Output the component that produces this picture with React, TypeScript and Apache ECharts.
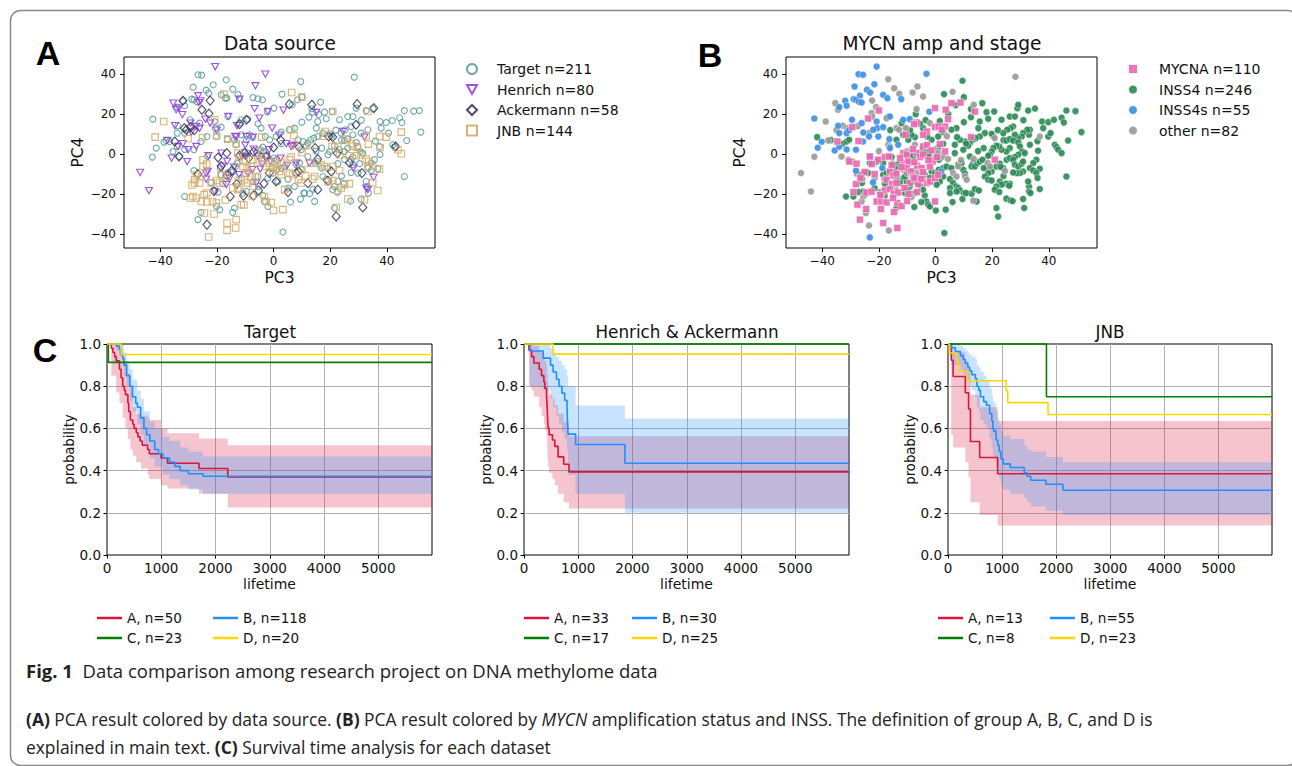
import React, { useEffect, useRef } from "react";
import * as echarts from "echarts";

// ---------------- Panel A: PCA points by data source [PC3, PC4] ----------------
const targetPts = [
  [-26.7,39.7],[-25.4,39.5],[-28.4,33.5],[-23.8,32],[-21.3,34.7],[-22.9,30.5],[-16.7,37.2],[-14.4,32.5],[-12.6,29.8],[-16.5,28],
  [-7.3,28.3],[-5.5,27.7],[0.1,23],[-3.9,27.2],[9.6,36.3],[28.5,38.5],[8.5,27.2],[6.6,24.7],[16.6,26],[13.5,22.7],[13.8,21],[16,19.8],
  [-42.6,17.5],[-41.4,3],[-42.8,-1.5],[-38.7,6],[-36.7,6.3],[-35.5,1.3],[-33.8,14.2],[-34,10.5],[-31.4,10.5],[-29.5,17.2],[-26.1,15.5],
  [-20.8,16.3],[-20.6,13],[-18.5,13.5],[-16.1,18.8],[-11.4,17.2],[-9.1,17.5],[-2.2,21.2],[-31.9,26.7],[-28.9,27.5],[-34,23.5],[-31.4,24.2],
  [-18.5,29.7],[-17,28],[-12.1,27.5],[-28.1,27.2],[-27.1,26.2],[-25.6,6.3],[-23.5,8.8],[-20.2,8.8],[-16.3,7.5],[-13.2,4.7],[-28.1,2.2],
  [-31.4,2.3],[-34,3.7],[-37.9,6.8],[-33.2,-1.2],[-23.3,-1.2],[-18.8,-7],[-28.1,-8.3],[-22.1,-14.2],[-19.6,-19],[-31.4,-21.2],[-25.6,-29.2],
  [-26.7,-32.8],[-19,-27.8],[-20.1,-26.2],[-14.4,-29.2],[-13.8,-27],[-17.9,-14.8],[-18.5,-10.3],[-16.1,-9.2],[-14.2,-8.7],[-13.5,-6.2],[-12.9,-4.5],
  [-10.2,1.3],[-9.1,0.5],[-5.8,0.5],[-4.6,2.2],[-3.5,1.3],[-2.3,-1.2],[0.1,-2],[1.2,-2.8],[-1.4,7.2],[-2.9,8.8],[-4.4,13],[-5.5,15.2],
  [-3.8,3.5],[-7.3,8.5],[-8.5,9.7],[-9.6,7.2],[-11.4,9.7],[-12,15.5],[-13.8,7.2],[0.9,8.8],[2.7,5.2],[2.7,11],[5.6,12.2],[7.4,13],[8.6,7.2],
  [9.8,2.2],[10.5,6.3],[11.5,4.2],[12.1,5.5],[13.1,7.2],[14.2,8],[15.6,8.8],[17.4,10.5],[15.1,13],[15.6,16.3],[18.6,17.7],[19.8,10.2],[20.4,8.8],
  [12.5,18.5],[10,16],[3,30],[10,28.5],[-0.2,-9.5],[1.1,-7.8],[2.7,-7],[3.9,-6.2],[8,-5.3],[9.2,-4.5],[9.8,-7.8],[12.1,-1.2],[14.8,-4.5],
  [15.6,-3.7],[19.2,-7],[17.4,-11.2],[18.6,-12.8],[5.1,-12.5],[7.4,-16.2],[11,-19.5],[12.7,-19.8],[1.5,-13.7],[-3.8,-20.7],[-3.2,-23.7],
  [-2,-26.2],[3.3,-39],[5.1,-17],[10.7,-19.5],[13.9,-17.5],[14.5,-23.7],[-7.3,-13.7],[-5.3,-16.2],[-9.6,-18.7],[-10.8,-19.5],[-11.4,-12],
  [-5.5,-11.2],[-2,-12],[6,-24],[9.5,-22.5],[46.2,21.8],[49.5,21.5],[51.5,21.8],[52,11],[47,6.8],[46.2,-11.2],[39.8,15.8],[41.9,16.8],
  [37.4,3.8],[37.6,-0.2],[40.6,10.5],[44.5,18.2],[45.3,15.8],[42.7,3.5],[42.1,4.7],[36.8,-7.3],[35.6,-2.8],[34.5,-4.5],[33.3,12.2],[30.9,10.5],
  [28,9.7],[27.4,13.8],[25.3,12.2],[26.2,18.8],[28,18.8],[29.2,23],[32.7,21.8],[35.1,22.8],[37.6,16.3],[20.7,21.3],[23.3,17.2],[23.9,10.5],
  [24,7],[25,6.8],[26.2,7.5],[29.2,5.8],[29.8,3.8],[30.6,1.3],[31.5,0.5],[28,-1.5],[26.2,3],[25,1.3],[23.3,2.2],[21.5,4.2],[19.8,1.3],
  [19.2,-0.3],[22.7,-4.8],[25.1,-2.8],[27.4,-2.8],[28,-5.3],[30.4,-4.8],[33.3,-7],[34.5,-8.2],[29.8,-9.5],[27.4,-9.2],[24.8,-14.8],
  [22.7,-13.7],[21.5,-16.2],[20.9,-17.8],[27.2,-23.5],[22.5,-19],[21.5,-27],[30.9,-22.5],[33,-16.2],[33.5,-19.5],[32.7,-13.7],[36,6.5],
  [38,13],[31,17],[18,21],[22,12],[17,3],[15,1.5],[24,-11],[17,-7]
];
const henrichPts = [
  [-20.6,43.8],[-2.9,40],[-6.4,34.2],[-26.6,29.2],[-26.4,25.8],[-25.8,26.6],[-35.4,25.5],[-33.4,23],[-34.4,22.2],[-12,27.5],[-16,18.8],
  [-6.7,22.7],[-2,21.3],[3.5,22],[-24.1,17.5],[-22.4,15.5],[-32.2,19.7],[-29.3,15.5],[-34.8,14.2],[-27.3,13.8],[-26.1,13],[-13.6,8.8],
  [-13.1,8.6],[-9.6,8.8],[-7.3,8.5],[-12.9,14.2],[-0.5,13],[-37.5,6.8],[-33.8,3.8],[-32,5.2],[-30.2,2.2],[-27.3,3.8],[-23,-0.8],[-18.4,0.5],
  [-11,-1.2],[-9.6,-1.2],[-5.5,-1.2],[-7,2.5],[-2.6,-1.2],[-1.6,2.2],[4.5,5.2],[6.8,4.2],[8,-4.5],[4.8,-5.7],[-1.1,-3.7],[-4.7,-7.5],
  [-7.5,-7.8],[-9.1,-9.5],[-6.1,-14.5],[-16.7,-15.3],[-16.4,-3.7],[-12.2,-10.3],[-23.2,-8.7],[-23.8,-9.5],[-20.8,-18.7],[-30.5,-3.8],
  [-23.8,-12.5],[-47.1,-9.2],[-44,-18.3],[24.5,11.3],[28.2,-7],[32.1,8.5],[32.7,-17],[33.3,-17.8],[35.3,-11.7],[15.1,20.8],[12.7,-4.5],
  [6.2,3.8],[-29,11],[-18,-6],[-14,-6.5],[-4,-5],[2.5,-2],[-20,12],[-15.5,-12],[-10,4.5],[-36,-2],[-5,18],[2,9.5]
];
const ackermannPts = [
  [-32,26.7],[-22.4,26.8],[-25.3,22.2],[-22.8,20.3],[-9.6,17.2],[-12,15],[-29.3,13.5],[-30.8,12.2],[-34.9,6.3],[-33.4,-1.2],[-19.6,-1.7],
  [-16.5,0.5],[-12,-0.7],[-10.2,0.5],[-8.8,-2],[-2.6,-1.2],[0,3.3],[5.6,25],[13.5,24.7],[29.5,25],[35.4,23],[29.1,14.7],[19.5,8.8],
  [20.9,8.5],[43.1,3.8],[14.7,3],[8,-9.5],[8.8,-8.7],[12.1,-14.5],[15.6,-17.8],[5.1,-19],[0.9,-13.7],[-3.4,-14.8],[-5.3,-18.2],[-7.1,-20.8],
  [-10.6,-20.8],[-15.3,-21.2],[-16.4,-10.7],[-14.7,-8.2],[-26.7,-10],[-23.5,-35.3],[20.4,-8.7],[19.2,-13.3],[22.1,-31.2],[31.5,-26.7],
  [31.2,-9.5],[26.8,-4.3],[15.6,-2.5],[-28,12],[-13,-15],[-1.5,-9.5],[2.5,7],[-31.5,13],[-7,1.2],[22.5,0.5],[-21,-18.5],[9,3.5],[-18.5,-6]
];
const jnbPts = [
  [-17.5,30],[6.4,30.8],[10,28.5],[-20.8,17.2],[-38.8,16.3],[-41.8,8.5],[-25.1,8.3],[-30.2,7.7],[-20.1,9.2],[-16.2,7.5],[-13.2,5.2],
  [6.2,12.2],[7.2,9.2],[20.9,21.3],[33.3,21.3],[25.6,7.5],[27.4,5.2],[28,4],[32.7,9.2],[37.4,8.8],[39.8,8.5],[45.1,11],[45.1,0.2],[43.9,2.2],
  [37.6,3.3],[33.5,5],[29.5,3.5],[22.7,3.8],[23.3,-0.3],[20.6,3.8],[18.2,11.3],[17.4,9],[12.9,4.2],[10,0.8],[7.4,4.7],[13.1,-4.5],[16.8,-5.3],
  [18,-6.2],[20.9,-6.2],[23.3,-8.2],[26.6,-0.8],[29.2,-0.8],[30.9,-0.3],[32.7,-2.5],[33.3,-6.2],[35,-6.2],[37.4,-7.5],[33.6,-3.7],[35,-14.2],
  [36.8,-18.2],[32.1,-22.8],[26.8,-14.8],[25.1,-15.3],[23.9,-17],[22.7,-18.2],[20.9,-13.3],[19.2,-13.8],[26.2,-22.5],[22.1,-26.7],[14.5,-11.2],
  [11.3,-10.8],[13.8,-12.5],[8.8,-12.8],[9.7,-14.5],[10,-7.8],[5.6,-9.5],[6.8,-10.3],[2.7,-10.3],[2.1,-8.7],[3.9,-17.8],[1.2,-6.2],[2.7,-4.5],
  [0.4,-3.7],[-1.4,-4.5],[-2.6,-6.2],[3.3,-27.8],[0,-28.2],[-3.2,-21.2],[-2.6,-23.7],[-0.8,-24.2],[-11.4,-25.3],[-13.2,-32.8],[-16.4,-34.5],
  [-16.4,-38.2],[-13.4,-37],[-22.9,-41.5],[-24.4,-29.5],[-21.6,-23.7],[-20.2,-24.5],[-25.5,-23.7],[-27.3,-22],[-24.5,-20.3],[-23.6,-19.5],
  [-28.5,-21.2],[-29.3,-22],[-26.1,-14.5],[-27.9,-14.5],[-28.8,-15.5],[-27.2,-10.3],[-27.9,-12.8],[-22,-14.5],[-20.2,-13.2],[-19.1,-14.5],
  [-18.5,-10.3],[-16.7,-11.2],[-14.4,-17],[-12.6,-17.8],[-12,-17],[-10.2,-12.8],[-9.1,-14.5],[-7.3,-16.2],[-9.6,-9.7],[-8.1,-11.2],[-6.4,-11.2],
  [-10.8,-6.2],[-9.3,-7],[-7.9,-6.2],[-12.2,-3.7],[-10.6,-3.2],[-7.3,-2.8],[-5.5,-2.8],[-3.8,-3.7],[-4.2,1.3],[-1.4,-8.7],[-0.2,-7],[5.6,-2.8],
  [6.2,-1.5],[-12.5,-13.2],[-24.9,-2.8],[-25.5,-11.2],[-24.9,-6.2],[-23.6,-5],[-12.6,0.5],[-4.2,8.5],[-21,-30],[-17,-23],[-23.5,-24],
  [-10.5,-25.5],[-7.5,-21]
];

// ---------------- Panel B: PCA points by MYCN amplification and stage ----------------
const mycnaPts = [
  [-20,21.8],[-23.8,17.8],[-29.4,13.5],[-34.7,6.3],[-27.2,6.5],[-30.4,-3.7],[-27.9,-4.8],[-23.2,-1.2],[-20.2,-2.8],[-17.9,-1.5],[-16.5,-1.2],
  [-28.1,-15],[-24.4,-19.2],[-22.6,-18.8],[-27.6,-25.3],[-26.7,-32.8],[-20.8,-23.7],[-19.1,-23.7],[-17.3,-24.2],[-13.5,-24.5],[-19.3,-27.5],
  [-14.7,-29],[-18.5,-34.5],[-13.5,-37],[-16.1,-8.7],[-14.9,-10.7],[-13.8,-9.8],[-17.3,-12.8],[-15.4,-15],[-13.8,-14.5],[-17.9,-18.2],
  [-16.1,-17.5],[-14.7,-19.8],[-13.2,-19.2],[-11.4,0.5],[-10.2,-0.3],[-11.4,-4.5],[-9.6,-3.7],[-10.2,-7],[-8.6,-8.7],[-8,-11.2],[-9.1,-14.5],
  [-6.7,0.5],[-5.5,-1.5],[-4.4,-0.3],[-6.5,-5.8],[-4.9,-7],[-4.4,-9],[-6.1,-15],[-3.1,-14.5],[-1.9,-13.7],[-0.2,-12],[0.9,-10.3],
  [-6.7,15.8],[-7.6,15],[-10.5,9.7],[-0.2,23],[3.6,22.2],[5.6,25.5],[8.8,25.8],[4.4,17.5],[3.3,13.8],[-0.2,13.5],[1.1,13.8],[2.2,12.2],
  [-3.1,11.3],[-4.4,9.7],[13.9,21.3],[12.5,8.5],[20.9,-2.8],[-1,-3.7],[-2,-6.2],[-0.2,-23.7],[3.3,1.3],[-4.4,3.8],[-12.5,-2],[-8,2.5],
  [-2.5,-3],[0.5,-1.5],[-7.5,-12],[-5,-12.5],[-11,-17],[-9.5,-20],[-6.5,-19],[-15.5,-5.5],[-12,-6.5],[-3,4.5],[1.5,5],[-1.5,1.8],[-22.5,-5],
  [-25,-9],[-26.5,-12],[-21.5,-10],[-19.5,-20.5],[-12,-26],[-10,-23.5],[-7.5,-4],[-15,-22],[-24.5,-27.5],[-29,-19]
];
const inss4Pts = [
  [9.5,36.7],[10,28.5],[7.1,24.5],[16.5,25.5],[12.5,22.5],[20.7,21.3],[23.3,17.2],[26.2,18.8],[28,18.8],[28.9,23],[29.2,24.7],[32.7,21.8],
  [35.1,22.8],[37.6,16.3],[39.8,16],[41.8,17.2],[44.5,18.2],[46.2,21.8],[49.4,21.5],[51.5,11],[45.3,15.8],[46.8,6.8],[39.8,8.8],[40.6,10.5],
  [42.1,4.7],[42.7,3.5],[43.3,2.2],[44.5,0.5],[46.2,-11.2],[36.8,-7.3],[35.6,-2.8],[34.5,-4.5],[36.2,1.7],[33.3,4.7],[33,9.7],[33.3,12.2],
  [32.4,12.2],[30.9,10.5],[30.4,8.8],[29.2,8],[28,9.7],[27.4,13.8],[26.5,13],[25.3,12.2],[23.9,10.5],[24,7],[25,6.8],[26.2,7.5],[27.4,6.8],
  [29.2,5.8],[29.8,3.8],[30.6,1.3],[31.5,0.5],[29.2,-0.3],[28,-1.5],[26.2,3],[25,1.3],[23.3,2.2],[22.5,3.8],[21.5,4.2],[20.4,3],[19.8,1.3],
  [19.2,-0.3],[18.6,-0.8],[20.4,8.8],[19.8,10.2],[18.6,17.7],[15.6,16.3],[15.1,13],[17.4,10.5],[15.6,8.8],[14.2,8],[13.1,7.2],[12.1,5.5],
  [11.5,4.2],[10.5,6.3],[10.8,5.2],[9.8,2.2],[8.6,7.2],[7.6,8.5],[6.8,4.7],[6.8,0.5],[7.4,13],[5.6,12.2],[2.7,11],[0.9,8.8],[2.7,5.2],
  [0.9,3.3],[-0.2,2.2],[-1.4,7.2],[-2.9,8.8],[-4.4,13],[-5.5,15.2],[-3.8,3.5],[-2.6,0.5],[-7.3,8.5],[-8.5,9.7],[-9.6,7.2],[-11.4,9.7],
  [-12,15.5],[-13.8,7.2],[2.7,-7],[3.9,-6.2],[5.6,-7],[8,-5.3],[9.2,-4.5],[9.8,-7.8],[10.4,-9.8],[12.1,-1.2],[13.3,-4.5],[12.7,-6.2],
  [13.9,-6.2],[14.8,-4.5],[15.6,-3.7],[16.6,-2.8],[18,-6.2],[19.2,-7],[19.8,-8.7],[18.6,-9.5],[17.4,-11.2],[18.6,-12.8],[19.8,-13.2],
  [21.5,-6.2],[22.7,-4.8],[23.9,-7],[25.1,-2.8],[26.2,-2],[27.4,-2.8],[28,-5.3],[29.2,-6.2],[30.4,-4.8],[30.9,-3.7],[33.3,-7],[34.5,-8.2],
  [35.6,-9.5],[30.9,-8.7],[29.8,-9.5],[28.6,-9.5],[27.4,-9.2],[26.2,-14.8],[24.8,-14.8],[26,-15.8],[22.7,-13.7],[23.3,-15.3],[21.5,-16.2],
  [20.9,-17.8],[25,-22.3],[26.5,-23.2],[27.2,-23.5],[22.5,-19],[21.5,-27],[22.1,-31.2],[30.9,-22.5],[31.3,-27],[33,-16.2],[33,-18.7],
  [33.5,-19.5],[36.8,-17.5],[36,-12],[32.7,-13.7],[5.1,-12.5],[6.2,-14.5],[7.4,-16.2],[8,-17],[8.6,-18.2],[11,-19.5],[12.7,-19.8],
  [2.7,-11.2],[1.5,-13.7],[0.4,-15.3],[-3.8,-20.7],[-3.2,-23.7],[-2.6,-25.3],[-2,-26.2],[0.1,-28.2],[3.6,-27.8],[3.1,-39.5],[5.1,-17],
  [5.1,-19.5],[7.4,-18.7],[10,-19.5],[10.7,-19.5],[13.9,-17.5],[15.3,-18.2],[14.5,-23.7],[-7.3,-13.7],[-6.1,-14.5],[-5.3,-16.2],
  [-4.4,-17.8],[-9.1,-16.2],[-9.6,-18.7],[-7.3,-19.5],[-10.8,-19.5],[-10.2,-17.8],[-11.4,-12],[-10.2,-13.7],[-13.8,-27],[-18.5,-10.3],
  [-17.9,-14.8],[-31.6,-21.2],[-29,-21.2],[-27.2,-19],[-25.5,-18.7],[-21.5,-17],[-18.5,-4.5],[-20.8,-3.7],[-23.2,-4.5],[-23.8,-9.5],
  [-25.5,-9.5],[-32.8,5.2],[-31.4,6.3],[-30.5,7.2],[-41.8,8.5],[-16.1,-9.2],[-17.3,-9.5],[-14.2,-8.7],[-13.5,-6.2],[-12.9,-4.5],[-10.2,1.3],
  [-9.1,0.5],[-8,-1.2],[-5.8,0.5],[-4.6,2.2],[-3.5,1.3],[-2.3,-1.2],[-1.1,-2.8],[0.1,-2],[1.2,-2.8],[-1.4,-8.7],[-0.2,-9.5],[1.1,-7.8],
  [-13.8,-12.8],[-12.6,-14.5],[-5.5,-11.2],[-3.8,-10.3],[-2,-12],[-10.8,-11.2],[-15,-5],[-7,20],[-3.5,17],[1.5,16.5],[4.5,20],[12.5,18.5],
  [-24.5,-19.5],[-26,-14.5],[-18,-21],[-7.5,-26.5],[-5,-24],[6,-24],[9.5,-22.5],[17,-7],[24,-11],[17,3],[23,-6.5],[22,12],[10,16],[15,1.5],
  [36,6.5],[38,13],[31,17],[18,21],[3,30],[-9,12],[-16,12],[-15.5,-1.5],[-37,7]
];
const inss4sPts = [
  [-20.8,43.8],[-27.2,40],[-25.6,39.7],[-3.2,40.2],[-28.6,33.8],[-21.6,35],[-24.2,32.2],[-23.1,30.8],[-26.7,29.2],[-31.9,26.7],[-28.9,27.5],
  [-28.1,27.2],[-27.1,26.2],[-26.1,25.8],[-34,23.5],[-31.4,24.2],[-18.5,29.7],[-17,28],[-12.1,27.5],[-42.8,17.8],[-34.4,14.2],[-34,10.5],
  [-31.4,10.5],[-29.5,17.2],[-26.1,15.5],[-20.8,16.3],[-20.6,13],[-18.5,13.5],[-16.1,18.8],[-11.4,17.2],[-9.1,17.5],[-2.2,21.2],[-41.6,3.2],
  [-40.2,6.2],[-35.6,1.8],[-34,3.7],[-31.4,2.3],[-28.1,2.2],[-25.6,6.3],[-23.5,8.8],[-20.2,8.8],[-16.3,7.5],[-13.2,4.7],[-23.3,-1.2],
  [-18.8,-7],[-28.1,-8.3],[-22.1,-14.2],[1.9,-8.7],[-23.2,-41.7],[-16.1,3],[-25.5,10.8],[-22,12.2],[-30.5,12]
];
const otherPts = [
  [-47.5,-9.5],[-44,-18.7],[-42.8,-1.3],[-38.8,16.3],[-37.9,6.8],[-35.4,25.5],[-34.4,22.2],[-32.8,14.2],[-31.4,13],[-31,12],[-33.2,-1.2],
  [-30.8,-2.8],[-29.3,-3.7],[-27.8,-9.8],[-26.7,-10.3],[-25.8,-12.5],[-26.1,-23.7],[-25.5,-21.2],[-25,-20.3],[-24.6,-29.5],[-23.5,-35.7],
  [-16.5,-38.2],[-19.6,-19],[-19,-20.3],[-22.6,20.5],[-22.4,18.8],[-22.4,26.8],[-21,23.5],[-16.7,37.5],[-14.6,33],[-12.8,30.2],[-8.1,30.8],
  [-6.4,33.8],[-6.7,22.5],[-4.4,28.8],[6,31.2],[13.5,24.7],[28.2,38.7],[36.8,8.8],[20.9,8],[18.4,-4.5],[19.2,-6.2],[13.3,-23.3],[-16.7,4.7],
  [-16.1,3.8],[-13.8,13],[-12.9,12.2],[-10.5,13],[-16.7,18.8],[-17.3,18],[-7.3,4.7],[-10.2,0.5],[-9.1,-4.5],[-11.4,-7.8],[-10.2,-9.5],
  [-7.9,-8.7],[-6.7,-9.5],[-4.4,-11.2],[-0.2,1.3],[0.9,0.5],[2.7,-1.2],[4.4,-2.5],[6.2,-9.5],[7.4,-11.2],[8,-6.2],[10.4,-11.2],[11,-12.8],
  [-21.5,-12],[-14,-18],[-8.5,-21.5],[9,-3],[-20,1.5],[-18,-12.5],[-27.5,14],[-35,12],[-23.5,10.5],[24.5,-8.5],[-2,15.5],[13.5,-2.5],[4,9]
];

// ---------------- Panel C: Kaplan-Meier curves [lifetime, survival] ----------------
const XMAX = 5990;
const tgtA = [[0,1],[80,0.98],[110,0.96],[140,0.94],[170,0.92],[230,0.88],[260,0.84],[290,0.8],[320,0.78],[340,0.76],[385,0.72],[400,0.68],[430,0.64],[475,0.62],[500,0.6],[540,0.58],[570,0.56],[610,0.54],[650,0.52],[750,0.5],[780,0.48],[995,0.46],[1115,0.435],[1695,0.41],[2225,0.37]];
const tgtB = [[0,1],[170,0.99],[230,0.975],[250,0.95],[290,0.93],[310,0.9],[360,0.85],[420,0.8],[470,0.75],[530,0.72],[560,0.7],[620,0.65],[680,0.6],[730,0.57],[790,0.54],[880,0.5],[950,0.48],[1030,0.46],[1150,0.44],[1250,0.42],[1350,0.4],[1500,0.385],[1770,0.373]];
const tgtC = [[0,1],[25,0.913]];
const tgtD = [[0,1],[260,0.95]];
const tgtBandA = [[0,1,1],[80,0.85,1],[170,0.77,0.99],[230,0.72,0.98],[290,0.65,0.94],[340,0.6,0.91],[385,0.55,0.86],[430,0.5,0.8],[475,0.47,0.7],[540,0.44,0.67],[630,0.41,0.66],[750,0.38,0.65],[780,0.36,0.64],[995,0.33,0.6],[1115,0.315,0.577],[1695,0.29,0.552],[2225,0.225,0.52]];
const tgtBandB = [[0,1,1],[170,0.97,1],[230,0.94,1],[310,0.85,0.96],[360,0.8,0.92],[420,0.73,0.88],[470,0.68,0.83],[560,0.62,0.78],[620,0.57,0.74],[680,0.52,0.68],[790,0.46,0.63],[880,0.42,0.6],[1030,0.38,0.56],[1150,0.36,0.54],[1350,0.33,0.51],[1500,0.31,0.49],[1770,0.29,0.467]];

const henA = [[0,1],[91,0.97],[140,0.94],[183,0.91],[280,0.88],[323,0.85],[366,0.82],[384,0.79],[415,0.76],[427,0.7],[435,0.64],[445,0.6],[463,0.57],[524,0.545],[567,0.515],[628,0.465],[732,0.43],[829,0.394]];
const henB = [[0,1],[110,0.967],[354,0.933],[488,0.9],[537,0.867],[598,0.833],[646,0.8],[700,0.767],[750,0.733],[793,0.7],[800,0.633],[811,0.573],[951,0.524],[1860,0.435]];
const henC = [[0,1]];
const henD = [[0,1],[535,0.952]];
const henBandA = [[0,1,1],[91,0.8,1],[140,0.78,0.995],[183,0.75,0.99],[280,0.7,0.97],[323,0.66,0.96],[366,0.62,0.94],[384,0.59,0.92],[415,0.56,0.9],[427,0.5,0.86],[435,0.45,0.82],[445,0.42,0.78],[463,0.39,0.76],[524,0.36,0.74],[567,0.33,0.71],[628,0.29,0.67],[732,0.25,0.63],[829,0.22,0.563]];
const henBandB = [[0,1,1],[110,0.8,1],[354,0.78,0.995],[488,0.74,0.98],[537,0.7,0.96],[598,0.66,0.94],[646,0.62,0.92],[700,0.58,0.9],[750,0.55,0.88],[793,0.5,0.85],[811,0.38,0.8],[951,0.29,0.709],[1860,0.2,0.647]];

const jnbA = [[0,1],[60,0.923],[95,0.846],[320,0.769],[380,0.692],[415,0.538],[585,0.462],[918,0.385]];
const jnbB = [[0,1],[60,0.982],[135,0.964],[230,0.945],[280,0.927],[320,0.909],[365,0.891],[400,0.873],[440,0.855],[505,0.836],[535,0.8],[570,0.78],[600,0.75],[660,0.727],[710,0.71],[770,0.67],[810,0.636],[830,0.6],[845,0.587],[890,0.545],[920,0.52],[950,0.49],[980,0.455],[1020,0.432],[1150,0.415],[1410,0.39],[1460,0.373],[1530,0.354],[1810,0.335],[2125,0.307]];
const jnbC = [[0,1],[1820,0.75]];
const jnbD = [[0,1],[25,0.957],[165,0.913],[200,0.87],[365,0.826],[1075,0.778],[1105,0.722],[1850,0.666]];
const jnbBandA = [[0,1,1],[60,0.57,1],[95,0.51,0.96],[320,0.44,0.92],[380,0.37,0.87],[415,0.25,0.76],[585,0.19,0.7],[918,0.14,0.635]];
const jnbBandB = [[0,1,1],[60,0.9,1],[230,0.88,0.99],[280,0.86,0.98],[320,0.84,0.97],[365,0.82,0.96],[400,0.8,0.95],[440,0.78,0.94],[505,0.75,0.93],[535,0.7,0.9],[570,0.68,0.89],[600,0.64,0.87],[660,0.62,0.85],[710,0.6,0.83],[770,0.55,0.79],[810,0.51,0.76],[830,0.47,0.73],[845,0.46,0.72],[890,0.42,0.68],[920,0.39,0.65],[950,0.36,0.62],[980,0.33,0.59],[1020,0.31,0.565],[1150,0.29,0.55],[1410,0.27,0.52],[1460,0.25,0.5],[1530,0.23,0.49],[1810,0.21,0.465],[2125,0.19,0.44]];

const COL_A = "#dc143c", COL_B = "#1e90ff", COL_C = "#008000", COL_D = "#ffd700";
const FONT = "DejaVu Sans";

function App() {
  const ref = useRef<HTMLDivElement>(null);
  useEffect(() => {
    if (!ref.current) return;
    const chart = echarts.init(ref.current, null, { renderer: "svg", width: 1292, height: 766 });

    const minus = (v: number) => String(v).replace("-", "\u2212");
    const txt = { fontFamily: FONT, color: "#111" };

    const grids = [
      { left: 124, top: 57, width: 311, height: 191 },
      { left: 786, top: 57, width: 311, height: 191 },
      { left: 107, top: 344, width: 325, height: 211 },
      { left: 524, top: 344, width: 325, height: 211 },
      { left: 948, top: 344, width: 324, height: 211 },
    ].map((g) => ({ ...g, show: true, borderColor: "#000", borderWidth: 1, backgroundColor: "transparent" }));

    const tick = { show: true, length: 4, lineStyle: { color: "#000", width: 1 } };
    const noLine = { show: false, onZero: false };
    const pcX = (i: number) => ({
      type: "value", gridIndex: i, min: -52.8, max: 57, splitNumber: 5, name: "PC3", nameLocation: "middle", nameGap: 22,
      nameTextStyle: { ...txt, fontSize: 15.5 },
      axisLine: noLine, axisTick: tick,
      axisLabel: { ...txt, fontSize: 12, margin: 7, showMinLabel: false, showMaxLabel: false, formatter: minus },
      splitLine: { show: false },
    });
    const pcY = (i: number) => ({
      type: "value", gridIndex: i, min: -47, max: 48.6, splitNumber: 5, name: "PC4", nameLocation: "middle", nameGap: 38,
      nameTextStyle: { ...txt, fontSize: 15.5 },
      axisLine: noLine, axisTick: tick,
      axisLabel: { ...txt, fontSize: 12, margin: 8, showMinLabel: false, showMaxLabel: false, formatter: minus },
      splitLine: { show: false },
    });
    const kmX = (i: number) => ({
      type: "value", gridIndex: i, min: 0, max: XMAX, interval: 1000, name: "lifetime", nameLocation: "middle", nameGap: 22,
      nameTextStyle: { ...txt, fontSize: 14 },
      axisLine: noLine, axisTick: { ...tick, length: 3.5 },
      axisLabel: { ...txt, fontSize: 13.5, margin: 6, showMaxLabel: false, formatter: (v: number) => String(v) },
      splitLine: { show: true, showMinLine: false, showMaxLine: false, lineStyle: { color: "#b0b0b0", width: 1 } },
    });
    const kmY = (i: number) => ({
      type: "value", gridIndex: i, min: 0, max: 1, interval: 0.2, name: "probability", nameLocation: "middle", nameGap: 30,
      nameTextStyle: { ...txt, fontSize: 13.2 },
      axisLine: noLine, axisTick: { ...tick, length: 3.5 },
      axisLabel: { ...txt, fontSize: 13.5, margin: 6, formatter: (v: number) => v.toFixed(1) },
      splitLine: { show: true, showMinLine: false, showMaxLine: false, lineStyle: { color: "#b0b0b0", width: 1 } },
    });

    const hollow = (name: string, data: number[][], symbol: string, size: any, color: string) => ({
      type: "scatter", name, xAxisIndex: 0, yAxisIndex: 0, data, symbol, symbolSize: size,
      itemStyle: { color: "rgba(255,255,255,0)", borderColor: color, borderWidth: 1.1, opacity: 0.9 },
    });
    const filled = (name: string, data: number[][], symbol: string, size: number, color: string) => ({
      type: "scatter", name, xAxisIndex: 1, yAxisIndex: 1, data, symbol, symbolSize: size,
      itemStyle: { color, borderColor: "#fff", borderWidth: 0.5, opacity: 0.92 },
    });

    const withEnd = (d: number[][]) => [...d, [XMAX, d[d.length - 1][1]]];
    const km = (name: string, d: number[][], color: string, i: number) => ({
      type: "line", name, xAxisIndex: i, yAxisIndex: i, data: withEnd(d), step: "end",
      symbol: "none", showSymbol: false, clip: false, z: 4,
      lineStyle: { color, width: 1.6 }, itemStyle: { color },
    });
    const band = (band: number[][], fill: string, i: number) => ({
      type: "custom", xAxisIndex: i, yAxisIndex: i, silent: true, z: 2,
      data: [[0, 1]],
      renderItem: (params: any, api: any) => {
        if (params.dataIndex !== 0) return null;
        const pts: number[][] = [];
        const nxt = (k: number) => (k + 1 < band.length ? band[k + 1][0] : XMAX);
        for (let k = 0; k < band.length; k++) {
          pts.push(api.coord([band[k][0], band[k][2]]));
          pts.push(api.coord([nxt(k), band[k][2]]));
        }
        for (let k = band.length - 1; k >= 0; k--) {
          pts.push(api.coord([nxt(k), band[k][1]]));
          pts.push(api.coord([band[k][0], band[k][1]]));
        }
        return { type: "polygon", shape: { points: pts }, style: { fill } };
      },
    });
    const PINK = "rgba(220,20,60,0.25)", LBLUE = "rgba(30,144,255,0.25)";

    const downTri = "path://M0,0L10,0L5,9Z";

    const kmLegend = (left: number, names: string[]) => ({
      orient: "vertical", left, top: 610, padding: 0, itemGap: 4, itemWidth: 25, itemHeight: 2.5,
      icon: "rect", selectedMode: false, data: names,
      textStyle: { ...txt, fontSize: 13.5, lineHeight: 16 },
    });
    const scLegend = (left: number, names: string[], pad: number) => ({
      orient: "vertical", left, top: 61, padding: 0, itemGap: 4.5, itemWidth: 10, itemHeight: 10, selectedMode: false,
      data: names,
      textStyle: { ...txt, fontSize: 14, lineHeight: 16, padding: [0, 0, 0, pad] },
    });

    const capRich = (size: number) => ({
      b: { fontFamily: "Open Sans", fontSize: size, fontWeight: "bold", fill: "#222" },
      r: { fontFamily: "Open Sans", fontSize: size, fill: "#222" },
      i: { fontFamily: "Open Sans", fontSize: size, fontStyle: "italic", fill: "#222" },
    });

    const option: any = {
      animation: false,
      grid: grids,
      xAxis: [pcX(0), pcX(1), kmX(2), kmX(3), kmX(4)],
      yAxis: [pcY(0), pcY(1), kmY(2), kmY(3), kmY(4)],
      legend: [
        scLegend(466, ["Target n=211", "Henrich n=80", "Ackermann n=58", "JNB n=144"], 15),
        scLegend(1127, ["MYCNA n=110", "INSS4 n=246", "INSS4s n=55", "other n=82"], 16),
        kmLegend(97, ["A, n=50", "C, n=23"]),
        kmLegend(213, ["B, n=118", "D, n=20"]),
        kmLegend(524, ["A, n=33", "C, n=17"]),
        kmLegend(632, ["B, n=30", "D, n=25"]),
        kmLegend(938, ["A, n=13", "C, n=8"]),
        kmLegend(1050, ["B, n=55", "D, n=23"]),
      ],
      series: [
        hollow("Target n=211", targetPts, "circle", 6, "#5f9ea0"),
        hollow("Henrich n=80", henrichPts, downTri, [7, 6.3], "#9040e0"),
        hollow("Ackermann n=58", ackermannPts, "diamond", [8, 9], "#3a3a58"),
        hollow("JNB n=144", jnbPts, "rect", 6.5, "#d4ac6a"),
        filled("INSS4 n=246", inss4Pts, "circle", 7, "#2e8b57"),
        filled("other n=82", otherPts, "circle", 7, "#9a9a9a"),
        filled("INSS4s n=55", inss4sPts, "circle", 7, "#3f8fe6"),
        filled("MYCNA n=110", mycnaPts, "rect", 7, "#e86ab0"),
        band(tgtBandA, PINK, 2), band(tgtBandB, LBLUE, 2),
        km("A, n=50", tgtA, COL_A, 2), km("B, n=118", tgtB, COL_B, 2), km("C, n=23", tgtC, COL_C, 2), km("D, n=20", tgtD, COL_D, 2),
        band(henBandA, PINK, 3), band(henBandB, LBLUE, 3),
        km("A, n=33", henA, COL_A, 3), km("B, n=30", henB, COL_B, 3), km("C, n=17", henC, COL_C, 3), km("D, n=25", henD, COL_D, 3),
        band(jnbBandA, PINK, 4), band(jnbBandB, LBLUE, 4),
        km("A, n=13", jnbA, COL_A, 4), km("B, n=55", jnbB, COL_B, 4), km("C, n=8", jnbC, COL_C, 4), km("D, n=23", jnbD, COL_D, 4),
      ],
      graphic: [
        { type: "rect", shape: { x: 10.5, y: 10.5, width: 1287, height: 755, r: 10 }, style: { fill: "none", stroke: "#8a8a8a", lineWidth: 1.5 }, silent: true },
        { type: "text", x: 48, y: 53, style: { text: "A", font: "bold 34px 'Liberation Sans', Arial", fill: "#000", align: "center", verticalAlign: "middle" } },
        { type: "text", x: 710, y: 55, style: { text: "B", font: "bold 34px 'Liberation Sans', Arial", fill: "#000", align: "center", verticalAlign: "middle" } },
        { type: "text", x: 45, y: 350, style: { text: "C", font: "bold 34px 'Liberation Sans', Arial", fill: "#000", align: "center", verticalAlign: "middle" } },
        { type: "text", x: 280, y: 43, style: { text: "Data source", font: `18.6px '${FONT}'`, fill: "#111", align: "center", verticalAlign: "middle" } },
        { type: "text", x: 942, y: 43, style: { text: "MYCN amp and stage", font: `18.6px '${FONT}'`, fill: "#111", align: "center", verticalAlign: "middle" } },
        { type: "text", x: 270, y: 332, style: { text: "Target", font: `16.8px '${FONT}'`, fill: "#111", align: "center", verticalAlign: "middle" } },
        { type: "text", x: 687, y: 332, style: { text: "Henrich & Ackermann", font: `16.8px '${FONT}'`, fill: "#111", align: "center", verticalAlign: "middle" } },
        { type: "text", x: 1110, y: 332, style: { text: "JNB", font: `16.8px '${FONT}'`, fill: "#111", align: "center", verticalAlign: "middle" } },
        {
          type: "text", x: 26, y: 670,
          style: {
            text: "{b|Fig. 1}{r|  Data comparison among research project on DNA methylome data}",
            verticalAlign: "middle", rich: capRich(18.5),
          },
        },
        {
          type: "text", x: 26, y: 719,
          style: {
            text: "{b|(A)}{r| PCA result colored by data source. }{b|(B)}{r| PCA result colored by }{i|MYCN}{r| amplification status and INSS. The definition of group A, B, C, and D is}",
            verticalAlign: "middle", rich: capRich(17.4),
          },
        },
        {
          type: "text", x: 26, y: 747,
          style: {
            text: "{r|explained in main text. }{b|(C)}{r| Survival time analysis for each dataset}",
            verticalAlign: "middle", rich: capRich(17.4),
          },
        },
      ],
    };
    chart.setOption(option);
    return () => chart.dispose();
  }, []);
  return <div ref={ref} style={{ position: "fixed", left: 0, top: 0, width: 1292, height: 766, background: "#fff" }} />;
}

export default App;
